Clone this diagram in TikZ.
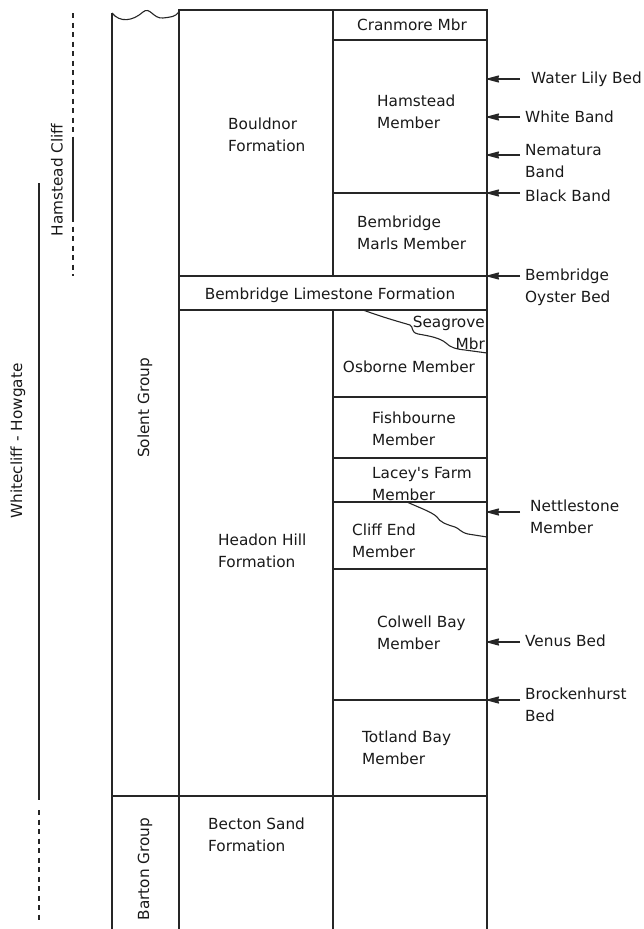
\documentclass[tikz,border=0pt]{standalone}
\usepackage{fontspec}
\setmainfont{DejaVu Sans}
\usetikzlibrary{arrows.meta}
\begin{document}
\begin{tikzpicture}[x=1pt,y=-1pt,
  lbl/.style={font=\fontsize{15.3}{22}\selectfont, inner sep=0pt, align=left, text=black!90},
  frame/.style={line width=1.1pt, draw=black!85},
  marker/.style={line width=1.1pt, draw=black!85, -{Stealth[length=14pt,width=7.5pt,inset=1.5pt,round=false]}},
  rangeline/.style={line width=1.1pt, draw=black!85},
  dashedline/.style={line width=1.1pt, draw=black!85, dash pattern=on 5pt off 4.5pt}]
\useasboundingbox (0,0) rectangle (644,929);

% column frame
\draw[frame] (112,929) -- (112,13);
\draw[frame] (112,13) .. controls (120,23) and (133,21) .. (143,12)
  .. controls (150,6) and (153,19) .. (163,18) .. controls (171,17) and (175,17) .. (179,12);
\draw[frame] (179,929) -- (179,10) -- (487,10) -- (487,929);
\draw[frame] (333,10) -- (333,276);
\draw[frame] (333,310) -- (333,929);
\draw[frame] (333,40) -- (487,40);
\draw[frame] (333,193) -- (487,193);
\draw[frame] (179,276) -- (487,276);
\draw[frame] (179,310) -- (487,310);
\draw[frame] (333,397) -- (487,397);
\draw[frame] (333,458) -- (487,458);
\draw[frame] (333,502) -- (487,502);
\draw[frame] (333,569) -- (487,569);
\draw[frame] (333,700) -- (487,700);
\draw[frame] (112,796) -- (487,796);

% diachronous boundaries
\draw[frame] (363,310) .. controls (385,318) and (400,322) .. (410,325)
  .. controls (414,327) and (410,332) .. (418,334)
  .. controls (430,336) and (440,338) .. (446,343)
  .. controls (450,347) and (455,349) .. (465,350) -- (487,353);
\draw[frame] (407,502) .. controls (420,508) and (432,512) .. (437,517)
  .. controls (440,522) and (445,524) .. (455,527)
  .. controls (460,529) and (460,532) .. (468,534) -- (487,537);

% left range lines
\draw[dashedline] (73,13) -- (73,138);
\draw[rangeline] (73,138) -- (73,217);
\draw[dashedline] (73,217) -- (73,276);
\draw[rangeline] (39,183) -- (39,800);
\draw[dashedline] (39,810) -- (39,920);

% rotated labels
\node[lbl, rotate=90] (hamcliff) at (57,180) {Hamstead Cliff};
\node[lbl, rotate=90] (whitecliff) at (18,441) {Whitecliff - Howgate};
\node[lbl, rotate=90] (solent) at (145,408) {Solent Group};
\node[lbl, rotate=90] (barton) at (145,869) {Barton Group};

% formations
\node[lbl, anchor=west] (bouldnor) at (228,135) {Bouldnor\\Formation};
\node[lbl] (bemlime) at (330,295) {Bembridge Limestone Formation};
\node[lbl, anchor=west] (headon) at (218,551) {Headon Hill\\Formation};
\node[lbl, anchor=west] (becton) at (208,835) {Becton Sand\\Formation};

% members
\node[lbl] (cranmore) at (412,25) {Cranmore Mbr};
\node[lbl, anchor=west] (hamstead) at (377,112) {Hamstead\\Member};
\node[lbl, anchor=west] (bemmarls) at (357,233) {Bembridge\\Marls Member};
\node[lbl, anchor=east, align=right] (seagrove) at (485,333) {Seagrove\\Mbr};
\node[lbl] (osborne) at (409,367) {Osborne Member};
\node[lbl, anchor=west] (fishbourne) at (372,429) {Fishbourne\\Member};
\node[lbl, anchor=west] (lacey) at (372,484) {Lacey\textquotesingle s Farm\\Member};
\node[lbl, anchor=west] (cliffend) at (352,541) {Cliff End\\Member};
\node[lbl, anchor=west] (colwell) at (377,633) {Colwell Bay\\Member};
\node[lbl, anchor=west] (totland) at (362,748) {Totland Bay\\Member};

% marker beds
\coordinate (colR) at (487,0);
\node[lbl, anchor=west] (waterlily) at (531,79) {Water Lily Bed};
\node[lbl, anchor=west] (whiteband) at (525,117) {White Band};
\node[lbl, anchor=west] (nematura) at (525,161) {Nematura\\Band};
\node[lbl, anchor=west] (blackband) at (525,196) {Black Band};
\node[lbl, anchor=west] (oyster) at (525,287) {Bembridge\\Oyster Bed};
\node[lbl, anchor=west] (nettlestone) at (530,517) {Nettlestone\\Member};
\node[lbl, anchor=west] (venus) at (525,641) {Venus Bed};
\node[lbl, anchor=west] (brock) at (525,705) {Brockenhurst\\Bed};

\coordinate (aWL) at (520,79);
\coordinate (aWB) at (520,117);
\coordinate (aNB) at (520,155);
\coordinate (aBB) at (520,193);
\coordinate (aOB) at (520,276);
\coordinate (aNM) at (520,512);
\coordinate (aVB) at (520,642);
\coordinate (aBH) at (520,700);
\foreach \a in {aWL,aWB,aNB,aBB,aOB,aNM,aVB,aBH}
  \draw[marker] (\a) -- (\a -| colR);
\end{tikzpicture}
\end{document}
